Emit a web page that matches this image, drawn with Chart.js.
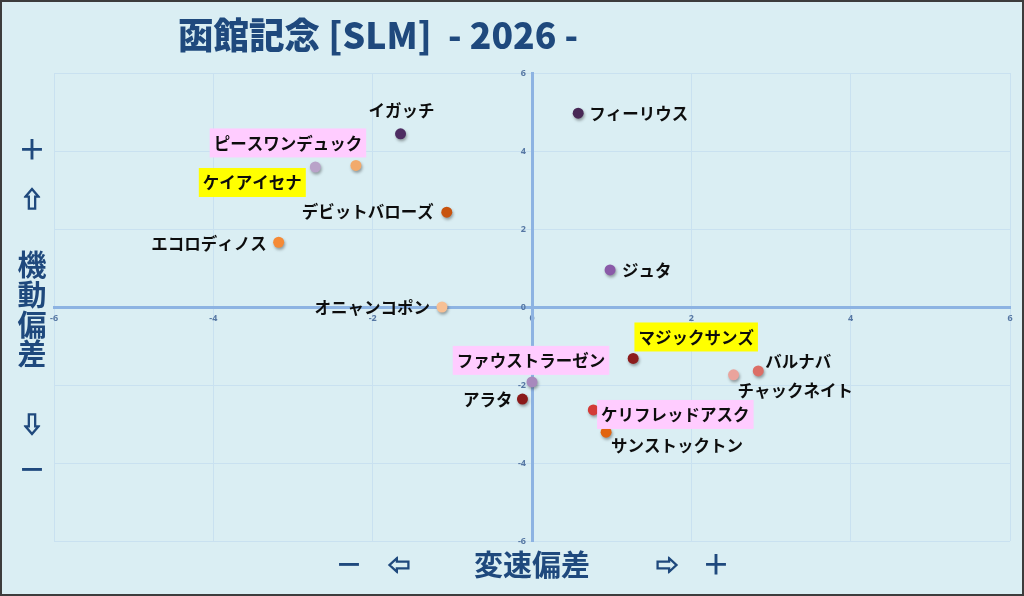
<!DOCTYPE html>
<html>
<head>
<meta charset="utf-8">
<script src="https://cdn.jsdelivr.net/npm/chart.js@4/dist/chart.umd.min.js"></script>
<style>
  html, body { margin: 0; padding: 0; }
  body { width: 1024px; height: 596px; background: #daeef3; position: relative; overflow: hidden;
         font-family: "Noto Sans CJK JP", "Noto Sans", sans-serif; }
  #wrap { position: absolute; left: 0; top: 0; width: 1024px; height: 596px; }
  .frame { position: absolute; left: 0; top: 0; width: 1024px; height: 596px; box-sizing: border-box;
           border: 2px solid #3c3c3c; pointer-events: none; }
  .t { position: absolute; color: #1f497d; font-weight: 700; white-space: nowrap;
       transform: translate(-50%, -50%); line-height: 1; }
  .arr { -webkit-text-stroke: 1.3px #1f497d; }
  #title { position: absolute; left: 178px; top: 14px; color: #1f497d; font-weight: 900; font-size: 36px;
           line-height: 38px; white-space: pre; transform-origin: 0 50%; }
</style>
</head>
<body>
<div id="wrap"><canvas id="c" width="1024" height="596"></canvas></div>
<div id="title">函館記念 [SLM]  - 2026 -</div>
<div class="t" style="left:32px;top:148px;font-size:28px;">＋</div>
<div class="t arr" style="left:32px;top:197px;font-size:22px;">⇧</div>
<div class="t" style="left:32px;top:263px;font-size:29px;">機</div>
<div class="t" style="left:32px;top:293px;font-size:29px;">動</div>
<div class="t" style="left:32px;top:323px;font-size:29px;">偏</div>
<div class="t" style="left:32px;top:352px;font-size:29px;">差</div>
<div class="t arr" style="left:32px;top:422px;font-size:22px;">⇩</div>
<div class="t" style="left:32px;top:468px;font-size:28px;">－</div>
<div class="t" style="left:349px;top:563px;font-size:28px;">－</div>
<div class="t arr" style="left:399px;top:563px;font-size:22px;">⇦</div>
<div class="t" style="left:532px;top:563px;font-size:29px;">変速偏差</div>
<div class="t arr" style="left:667px;top:563px;font-size:22px;">⇨</div>
<div class="t" style="left:716px;top:563px;font-size:28px;">＋</div>
<div class="frame"></div>
<script>
// ---- data ----
const horseNames = ["イガッチ","フィーリウス","ピースワンデュック","ケイアイセナ","デビットバローズ","エコロディノス","ジュタ","オニャンコポン","マジックサンズ","バルナバ","チャックネイト","ファウストラーゼン","アラタ","ケリフレッドアスク","サンストックトン"];
const speedDeviation = [-1.65, 0.58, -2.21, -2.72, -1.07, -3.18, 0.98, -1.13, 1.27, 2.84, 2.53, 0.00, -0.12, 0.77, 0.93];
const mobilityDeviation = [4.44, 4.97, 3.63, 3.59, 2.43, 1.66, 0.95, 0.00, -1.32, -1.64, -1.74, -1.92, -2.36, -2.64, -3.21];
const xTickValues = [-6, -4, -2, 0, 2, 4, 6];
const yTickValues = [-6, -4, -2, 0, 2, 4, 6];

// ---- styles (kept separate from data) ----
const pointColors = ["#4e2d62","#482855","#f2aa6c","#b9a3c9","#c8530e","#f58a36","#8a5aa8","#f7c094","#8c1c1c","#dc6e66","#eaa39c","#a889bd","#8a1a1a","#d33b37","#e2640f"];
const labelHighlight = [null,null,"#ffccff","#ffff00",null,null,null,null,"#ffff00",null,null,"#ffccff",null,"#ffccff",null];
// label placement relative to the drawn point: [dx, dy, align]
const labelPlacement = [
  [1,-24,"center"], [11,0,"left"], [-68,-23,"center"], [-63,15,"center"], [-13,-1,"right"],
  [-12,0,"right"], [12,0,"left"], [-12,0,"right"], [63,-22,"center"], [7,-10,"left"],
  [4,15,"left"], [-1,-22,"center"], [-10,0,"right"], [82,4,"center"], [5,13,"left"]
];

// fit title width
(function(){
  const el = document.getElementById('title');
  const w = el.getBoundingClientRect().width;
  el.style.transform = 'scaleX(' + (400 / w).toFixed(3) + ')';
})();

const gridColor = '#c9e1f0';
const axisColor = '#8db3e2';

const shadowPlugin = {
  id: 'pointShadow',
  beforeDatasetsDraw(chart) {
    const ctx = chart.ctx;
    ctx.save();
    ctx.shadowColor = 'rgba(0,0,0,0.35)';
    ctx.shadowBlur = 3;
    ctx.shadowOffsetX = 1;
    ctx.shadowOffsetY = 2;
  },
  afterDatasetsDraw(chart) {
    chart.ctx.restore();
    const ctx = chart.ctx;
    const meta = chart.getDatasetMeta(0);
    ctx.save();
    ctx.font = '600 16.5px "Noto Sans CJK JP", sans-serif';
    ctx.textBaseline = 'middle';
    meta.data.forEach((pt, i) => {
      const [dx, dy, align] = labelPlacement[i];
      const text = horseNames[i];
      const w = ctx.measureText(text).width;
      const ax = pt.x + dx, ay = pt.y + dy;
      let left = align === 'left' ? ax : align === 'right' ? ax - w : ax - w / 2;
      if (labelHighlight[i]) {
        ctx.fillStyle = labelHighlight[i];
        ctx.fillRect(left - 4, ay - 14, w + 8, 29);
      }
      ctx.fillStyle = '#0d0d0d';
      ctx.textAlign = 'left';
      ctx.fillText(text, left, ay + 1);
    });
    ctx.restore();
  }
};

function scaleOpts(min, max, tickValues, isX) {
  return {
    type: 'linear',
    position: 'center',
    min: min, max: max,
    afterBuildTicks: (s) => { s.ticks = tickValues.map(v => ({ value: v })); },
    ticks: {
      color: '#5677a3',
      font: { size: 9, family: '"Open Sans", sans-serif', weight: '700' },
      padding: isX ? 6 : 6,
      maxRotation: 0,
      autoSkip: false
    },
    grid: {
      color: (c) => (c.tick && c.tick.value === 0) ? 'rgba(0,0,0,0)' : gridColor,
      lineWidth: 1,
      drawTicks: false
    },
    border: { display: true, color: axisColor, width: 3 }
  };
}

new Chart(document.getElementById('c'), {
  type: 'scatter',
  data: {
    datasets: [{
      data: horseNames.map((n, i) => ({ x: speedDeviation[i], y: mobilityDeviation[i] })),
      pointBackgroundColor: pointColors,
      pointBorderWidth: 0,
      pointRadius: 5.5,
      pointHoverRadius: 5.5
    }]
  },
  options: {
    responsive: false,
    animation: false,
    events: [],
    layout: { padding: { left: 54, right: 14, top: 73, bottom: 55 } },
    plugins: { legend: { display: false }, tooltip: { enabled: false }, title: { display: false } },
    scales: {
      x: scaleOpts(-6, 6, xTickValues, true),
      y: scaleOpts(-6, 6, yTickValues, false)
    }
  },
  plugins: [shadowPlugin]
});
</script>
</body>
</html>
